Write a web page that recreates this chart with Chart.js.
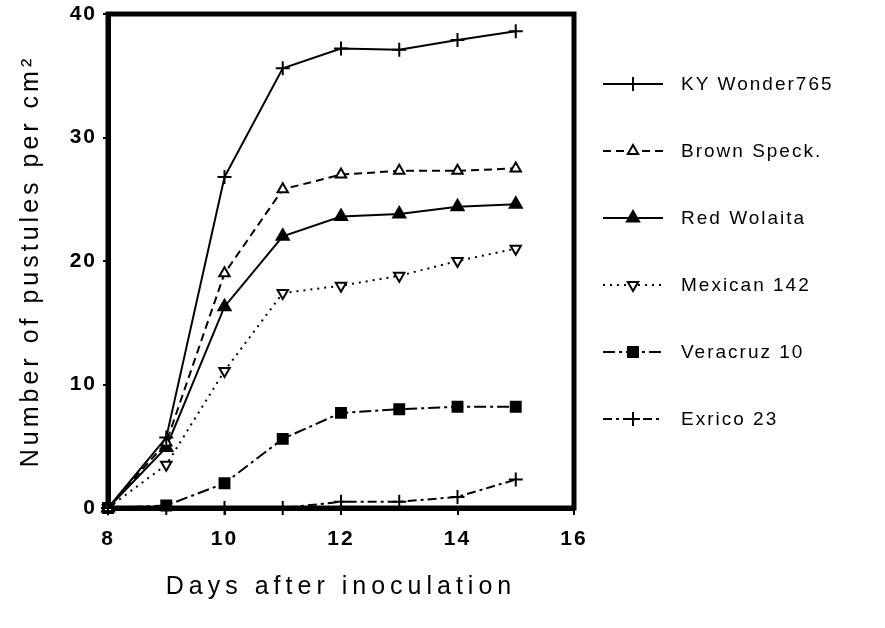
<!DOCTYPE html>
<html>
<head>
<meta charset="utf-8">
<script src="https://cdn.jsdelivr.net/npm/chart.js"></script>
<style>
  html, body { margin: 0; padding: 0; background: #fff; }
  #myChart { display: block; }
</style>
</head>
<body>
<canvas id="myChart" width="885" height="628"></canvas>
<script>
// days after inoculation
const days = [8, 9, 10, 11, 12, 13, 14, 15];
const xTicks = [8, 10, 12, 14, 16];
const yTicks = [0, 10, 20, 30, 40];

// pustules per cm2
const kyWonder = [0, 5.7, 26.8, 35.6, 37.2, 37.1, 37.9, 38.6];
const brownSpeck = [0, 5.3, 19.0, 25.8, 27.0, 27.3, 27.3, 27.5];
const redWolaita = [0, 4.9, 16.3, 22.0, 23.6, 23.8, 24.4, 24.6];
const mexican142 = [0, 3.5, 11.1, 17.4, 18.0, 18.8, 20.0, 21.0];
const veracruz10 = [0, 0.2, 2.0, 5.6, 7.7, 8.0, 8.2, 8.2];
const exrico23 = [0, 0, 0, 0, 0.5, 0.5, 0.9, 2.3];

const seriesNames = ['KY Wonder765', 'Brown Speck.', 'Red Wolaita', 'Mexican 142', 'Veracruz 10', 'Exrico 23'];

const FONT = '"Liberation Sans", Arial, sans-serif';

function toPoints(values) {
    return values.map((v, i) => ({ x: days[i], y: v }));
}

function makeDataset(label, values, style) {
    return Object.assign({
        label: label,
        data: toPoints(values),
        borderColor: '#000',
        borderWidth: 2,
        pointBorderColor: '#000',
        pointBorderWidth: 2,
        pointRadius: 6,
        fill: false,
        tension: 0,
        clip: false
    }, style);
}

const datasets = [
    makeDataset(seriesNames[0], kyWonder, { pointStyle: 'cross', pointRadius: 7, borderDash: [] }),
    makeDataset(seriesNames[1], brownSpeck, { pointStyle: 'triangle', pointBackgroundColor: '#fff', borderDash: [8, 5] }),
    makeDataset(seriesNames[2], redWolaita, { pointStyle: 'triangle', pointBackgroundColor: '#000', pointRadius: 7, borderDash: [] }),
    makeDataset(seriesNames[3], mexican142, { pointStyle: 'triangle', pointRotation: 180, pointBackgroundColor: '#fff', borderDash: [2, 5] }),
    makeDataset(seriesNames[4], veracruz10, { pointStyle: 'rect', pointBackgroundColor: '#000', pointRadius: 7, borderDash: [12, 4, 3, 4] }),
    makeDataset(seriesNames[5], exrico23, { pointStyle: 'cross', pointRadius: 7, borderDash: [9, 4, 3, 4] })
];

// wide letter spacing on axis titles, like the old plotter lettering
function spaceTitle(scale, spacing) {
    if (scale._spaced) return;
    const orig = scale.drawTitle.bind(scale);
    scale.drawTitle = function (area) {
        this.ctx.save();
        this.ctx.letterSpacing = spacing;
        orig(area);
        this.ctx.restore();
    };
    scale._spaced = true;
}

// frame around the plot
const framePlugin = {
    id: 'frame',
    beforeDraw(chart) {
        chart.ctx.letterSpacing = '2px';
    },
    beforeDatasetsDraw(chart) {
        const { ctx, chartArea } = chart;
        ctx.save();
        ctx.strokeStyle = '#000';
        ctx.lineWidth = 5;
        ctx.strokeRect(chartArea.left, chartArea.top, chartArea.right - chartArea.left, chartArea.bottom - chartArea.top);
        ctx.restore();
    }
};

// legend on the right: line sample with marker, then name
const sideLegend = {
    id: 'sideLegend',
    afterDraw(chart) {
        const ctx = chart.ctx;
        const x0 = 603, x1 = 663, tx = 681;
        const yStart = 84, gap = 67;
        chart.data.datasets.forEach((ds, i) => {
            const y = yStart + i * gap;
            ctx.save();
            ctx.strokeStyle = '#000';
            ctx.lineWidth = 2;
            ctx.setLineDash(ds.borderDash || []);
            ctx.beginPath();
            ctx.moveTo(x0, y);
            ctx.lineTo(x1, y);
            ctx.stroke();
            ctx.setLineDash([]);
            ctx.fillStyle = ds.pointBackgroundColor || '#000';
            ctx.strokeStyle = '#000';
            Chart.helpers.drawPoint(ctx, {
                pointStyle: ds.pointStyle,
                rotation: ds.pointRotation || 0,
                radius: ds.pointRadius,
                borderWidth: 2
            }, (x0 + x1) / 2, y);
            ctx.letterSpacing = '2px';
            ctx.fillStyle = '#000';
            ctx.font = '19px ' + FONT;
            ctx.textBaseline = 'middle';
            ctx.textAlign = 'left';
            ctx.fillText(ds.label, tx, y + 1);
            ctx.restore();
        });
    }
};

const ctx = document.getElementById('myChart');

const config = {
    type: 'line',
    data: { datasets: datasets },
    options: {
        responsive: false,
        animation: false,
        layout: { padding: { top: 14, right: 311, left: 0, bottom: 0 } },
        plugins: {
            legend: { display: false },
            tooltip: { enabled: false }
        },
        scales: {
            x: {
                type: 'linear',
                min: 8,
                max: 16,
                afterFit(scale) {
                    scale.height = 120;
                    scale.paddingLeft = 0;
                    scale.paddingRight = 0;
                    spaceTitle(scale, '5px');
                },
                afterBuildTicks(scale) { scale.ticks = xTicks.map(v => ({ value: v })); },
                grid: { drawOnChartArea: false, drawTicks: true, tickLength: 7, color: '#000', lineWidth: 2 },
                border: { display: true, color: '#000', width: 5 },
                ticks: {
                    color: '#000',
                    padding: 12,
                    font: { family: FONT, size: 21, weight: 'bold' }
                },
                title: {
                    display: true,
                    text: 'Days after inoculation',
                    color: '#000',
                    padding: { top: 0, bottom: 26 },
                    font: { family: FONT, size: 25 }
                }
            },
            y: {
                min: 0,
                max: 40,
                afterFit(scale) {
                    scale.width = 108;
                    scale.paddingTop = 0;
                    scale.paddingBottom = 0;
                    spaceTitle(scale, '4px');
                },
                afterBuildTicks(scale) { scale.ticks = yTicks.map(v => ({ value: v })); },
                grid: { drawOnChartArea: false, drawTicks: true, tickLength: 5, color: '#000', lineWidth: 2 },
                border: { display: true, color: '#000', width: 5 },
                ticks: {
                    color: '#000',
                    padding: 6,
                    font: { family: FONT, size: 21, weight: 'bold' }
                },
                title: {
                    display: true,
                    text: 'Number of pustules per cm²',
                    color: '#000',
                    padding: { top: 16, bottom: 0 },
                    font: { family: FONT, size: 25 }
                }
            }
        }
    },
    plugins: [framePlugin, sideLegend]
};

new Chart(ctx, config);
</script>
</body>
</html>
